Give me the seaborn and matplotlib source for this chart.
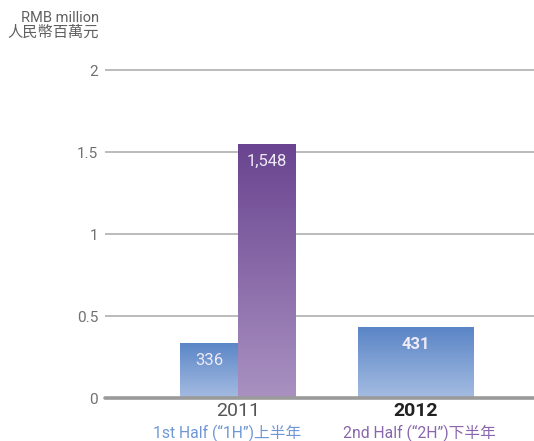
import numpy as np
import pandas as pd
import matplotlib
matplotlib.use("Agg")
import matplotlib.pyplot as plt
from matplotlib.colors import LinearSegmentedColormap
import seaborn as sns

# ---- data ----
years = ["2011", "2012"]
halves = ["1H", "2H"]
bar_years = ["2011", "2011", "2012"]
bar_halves = ["1H", "2H", "1H"]
bar_values = [336, 1548, 431]          # RMB million
bar_labels = ["336", "1,548", "431"]
label_bold = [False, False, True]
ytick_values = [0, 0.5, 1, 1.5, 2]
ytick_labels = ["0", "0.5", "1", "1.5", "2"]
subtitles = ["1st Half (\u201c1H\u201d)上半年", "2nd Half (\u201c2H\u201d)下半年"]
unit_en = "RMB million"
unit_zh = "人民幣百萬元"

df = pd.DataFrame({"year": bar_years, "half": bar_halves,
                   "value": np.array(bar_values) / 1000.0})

sns.set_theme(style="white")
plt.rcParams["font.family"] = ["Roboto", "Noto Sans CJK TC", "DejaVu Sans"]

W, H = 534, 441
fig = plt.figure(figsize=(W / 100, H / 100), dpi=100)
ymax = 2.05
px_per_unit = 164
ax = fig.add_axes([105 / W, 43 / H, 429 / W, ymax * px_per_unit / H])

sns.barplot(data=df, x="year", y="value", hue="half", order=years,
            hue_order=halves, width=0.65, dodge=True, legend=False,
            palette=["#7a9bd2", "#8a68ad"], ax=ax, errorbar=None)

# widen lone bars to full group width
patches = list(ax.patches)
groups = {}
for p in patches:
    c = round(p.get_x() + p.get_width() / 2)
    groups.setdefault(c, []).append(p)
for c, ps in groups.items():
    if len(ps) == 1:
        ps[0].set_x(c - 0.325)
        ps[0].set_width(0.65)

grad = {
    "1H": LinearSegmentedColormap.from_list("b", ["#a5bce2", "#5a85c6"]),
    "2H": LinearSegmentedColormap.from_list("p", ["#a991c1", "#6a4490"]),
}

xlim = (-0.747, 1.663)
patch_info = []
for p in patches:
    cx = p.get_x() + p.get_width() / 2
    h = p.get_height()
    for i, (yr, hf, v) in enumerate(zip(bar_years, bar_halves, df["value"])):
        if abs(h - v) < 1e-9 and round(cx) == years.index(yr):
            patch_info.append((p, i))
            break

for p, i in patch_info:
    x0 = p.get_x(); w = p.get_width(); h = p.get_height()
    cmap = grad[bar_halves[i]]
    p.set_facecolor("none"); p.set_edgecolor("none")
    img = ax.imshow(np.linspace(0, 1, 256).reshape(-1, 1), cmap=cmap,
                    origin="lower", extent=(x0, x0 + w, 0, h),
                    aspect="auto", zorder=3)
    img.set_clip_path(p)
    ax.annotate(bar_labels[i], xy=(x0 + w / 2, h), xytext=(0, -7),
                textcoords="offset points", ha="center", va="top",
                fontsize=12, color="#eeeaf6",
                fontweight="bold" if label_bold[i] else "normal", zorder=5)

ax.set_xlim(*xlim)
ax.set_ylim(0, ymax)

for v in ytick_values[1:]:
    ax.axhline(v, color="#a8a8a8", lw=1.1, zorder=1)
ax.axhline(0, color="#9a9a9a", lw=2.6, zorder=4, clip_on=False)

for s in ax.spines.values():
    s.set_visible(False)

ax.set_yticks(ytick_values)
ax.set_yticklabels(ytick_labels)
ax.tick_params(axis="y", length=0, pad=5, labelsize=11, labelcolor="#707070")
ax.set_xticks(range(len(years)))
ax.set_xticklabels(years)
ax.tick_params(axis="x", length=0, pad=3, labelsize=14)
xt = ax.get_xticklabels()
xt[0].set_color("#555555")
xt[1].set_color("#222222"); xt[1].set_fontweight("bold")
ax.set_xlabel(""); ax.set_ylabel("")

sub_colors = ["#6f97d6", "#8a66ad"]
sub_dx = [-11, 3]
for k, (t, c, dx) in enumerate(zip(subtitles, sub_colors, sub_dx)):
    ax.annotate(t, xy=(k, 0), xycoords=("data", "axes fraction"),
                xytext=(dx * 0.72, -35 * 0.72), textcoords="offset points",
                ha="center", va="center", fontsize=11.3, color=c,
                family=["Roboto", "Noto Sans CJK TC"])

fig.text(99 / W, 1 - 18 / H, unit_en, ha="right", va="center",
         fontsize=10.5, color="#606060")
fig.text(99 / W, 1 - 32 / H, unit_zh, ha="right", va="center",
         fontsize=11, color="#606060", family=["Noto Sans CJK TC"])

fig.savefig("out.png", dpi=100)
